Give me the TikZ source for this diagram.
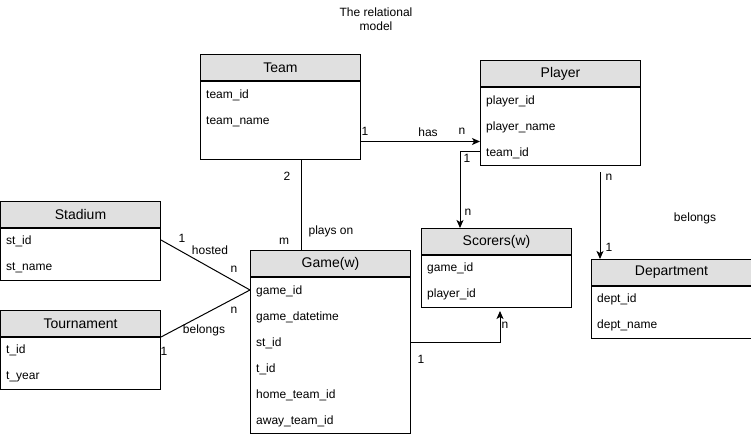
\documentclass[tikz,border=0pt]{standalone}
\usepackage{fontspec}
\setmainfont{Liberation Sans}
\usetikzlibrary{positioning,arrows.meta}
\definecolor{headgray}{HTML}{E0E0E0}
\tikzset{
  head/.style={draw, fill=headgray, line width=1pt, anchor=north west, inner sep=0pt,
    minimum height=26pt, font=\fontsize{14}{16}\selectfont},
  body/.style={draw, line width=1pt, anchor=north, inner sep=0pt},
  field/.style={anchor=west, inner sep=0pt, yshift=-1.5pt, font=\fontsize{12}{14}\selectfont},
  lbl/.style={inner sep=0pt, font=\fontsize{12}{14}\selectfont},
  link/.style={line width=1pt},
  tip/.style={-{Stealth[length=8pt,width=7pt,inset=2pt]}}
}
\begin{document}
\begin{tikzpicture}[x=1pt, y=-1pt]
  \useasboundingbox (0,0) rectangle (751,436);

  \node[lbl, align=center] (title) at (376,19) {The relational\\model};

  % Team
  \node[head, minimum width=160pt] (team) at (200,54) {Team};
  \node[body, minimum width=160pt, minimum height=78pt] (teamb) at (team.south) {};
  \node[field] (tmid) at (206,94) {team\_id};
  \node[field] (tmname) at (206,120) {team\_name};

  % Player
  \node[head, minimum width=160pt] (player) at (480,60) {Player};
  \node[body, minimum width=160pt, minimum height=78pt] (playerb) at (player.south) {};
  \node[field] (plid) at (486,100) {player\_id};
  \node[field] (plname) at (486,126) {player\_name};
  \node[field] (pltid) at (486,152) {team\_id};

  % Scorers
  \node[head, minimum width=150pt] (scorers) at (421,228) {Scorers(w)};
  \node[body, minimum width=150pt, minimum height=52pt] (scorersb) at (scorers.south) {};
  \node[field] (scgid) at (427,267) {game\_id};
  \node[field] (scpid) at (427,293) {player\_id};

  % Department
  \node[head, minimum width=160pt] (dept) at (591,259) {Department};
  \node[body, minimum width=160pt, minimum height=52pt] (deptb) at (dept.south) {};
  \node[field] (dpid) at (597,298) {dept\_id};
  \node[field] (dpname) at (597,324) {dept\_name};

  % Stadium
  \node[head, minimum width=160pt] (stadium) at (0,201) {Stadium};
  \node[body, minimum width=160pt, minimum height=52pt] (stadiumb) at (stadium.south) {};
  \node[field] (stid) at (6,240) {st\_id};
  \node[field] (stname) at (6,266) {st\_name};

  % Tournament
  \node[head, minimum width=160pt] (tourn) at (0,310) {Tournament};
  \node[body, minimum width=160pt, minimum height=52pt] (tournb) at (tourn.south) {};
  \node[field] (tid) at (6,349) {t\_id};
  \node[field] (tyear) at (6,375) {t\_year};

  % Game
  \node[head, minimum width=160pt] (game) at (250,250) {Game(w)};
  \node[body, minimum width=160pt, minimum height=156pt] (gameb) at (game.south) {};
  \node[field] (gmid) at (256,290) {game\_id};
  \node[field] (gmdate) at (256,316) {game\_datetime};
  \node[field] (gmst) at (256,342) {st\_id};
  \node[field] (gmt) at (256,368) {t\_id};
  \node[field] (gmhome) at (256,394) {home\_team\_id};
  \node[field] (gmaway) at (256,420) {away\_team\_id};

  % connectors
  \coordinate (hasstart) at ([yshift=-21pt]teamb.east);
  \draw[link, tip] (hasstart) -- (hasstart -| playerb.west);
  \node[lbl] (has1) at (365,131) {1};
  \node[lbl] (haslbl) at (428,132) {has};
  \node[lbl] (hasn) at (462,131) {n};

  \coordinate (tidbend) at (460,151);
  \draw[link, tip] (playerb.west |- tidbend) -- (tidbend) -- (tidbend |- scorers.north);
  \node[lbl] (tid1) at (467,158) {1};
  \node[lbl] (tidn) at (468,212) {n};

  \coordinate (deptstart) at (600,172);
  \draw[link, tip] (deptstart) -- (deptstart |- dept.north);
  \node[lbl] (deptn) at (609,177) {n};
  \node[lbl] (dept1) at (609,247) {1};
  \node[lbl] (deptlbl) at (695,218) {belongs};

  \coordinate (playsstart) at (301,160);
  \draw[link] (playsstart) -- (playsstart |- game.north);
  \node[lbl] (plays2) at (287,176) {2};
  \node[lbl] (playsm) at (284,241) {m};
  \node[lbl] (playslbl) at (331,231) {plays on};

  \draw[link] ([yshift=1.5pt]stadiumb.east |- stid) -- ([yshift=1.5pt]gameb.west |- gmid);
  \node[lbl] (host1) at (182,238) {1};
  \node[lbl] (hostlbl) at (210,250) {hosted};
  \node[lbl] (hostn) at (234,269) {n};

  \draw[link] (tourn.south east) -- ([yshift=1.5pt]gameb.west |- gmid);
  \node[lbl] (belongn) at (234,310) {n};
  \node[lbl] (belonglbl) at (204,330) {belongs};
  \node[lbl] (belong1) at (164,351) {1};

  \coordinate (scorend) at (500,311);
  \draw[link, tip] ([yshift=1.5pt]gameb.east |- gmst) -| (scorend);
  \node[lbl] (scorn) at (505,325) {n};
  \node[lbl] (scor1) at (421,359) {1};

\end{tikzpicture}
\end{document}
